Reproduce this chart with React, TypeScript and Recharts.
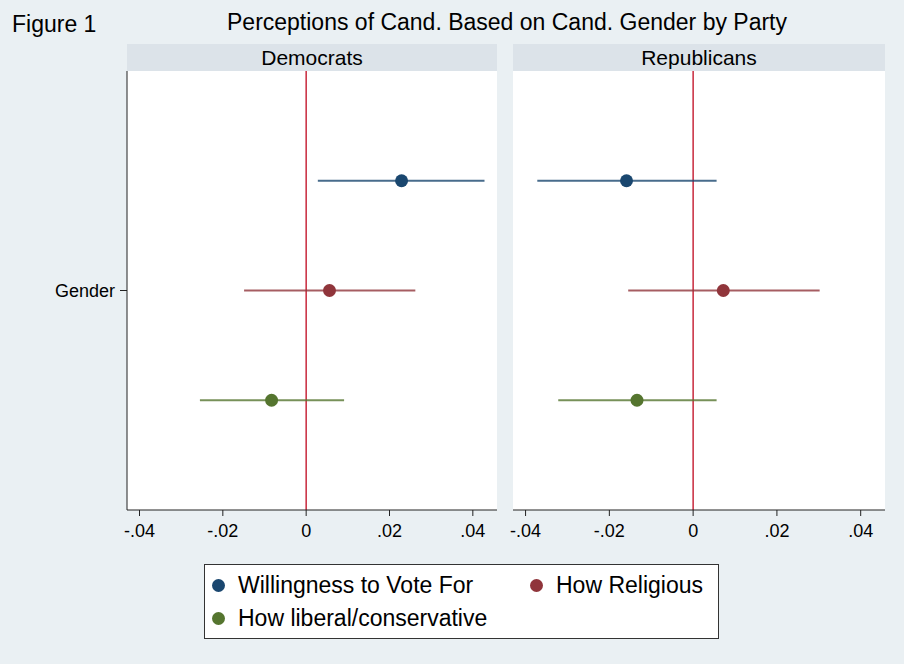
import { ScatterChart, Scatter, XAxis, YAxis, ErrorBar, ReferenceLine, CartesianGrid } from "recharts";

// outcomes (one row each in the coefficient plot), top to bottom
const outcomes = ["Willingness to Vote For", "How Religious", "How liberal/conservative"];
const rowPos = [3, 2, 1];
const colors = ["#1a476f", "#90353b", "#55752f"];

// Democrats panel: estimate + 95% CI
const demEst = [0.0229, 0.0056, -0.0083];
const demLo = [0.0028, -0.0149, -0.0255];
const demHi = [0.0428, 0.0262, 0.0091];

// Republicans panel
const repEst = [-0.0159, 0.0072, -0.0134];
const repLo = [-0.0372, -0.0155, -0.0322];
const repHi = [0.0056, 0.0302, 0.0056];

const xTicks = [-0.04, -0.02, 0, 0.02, 0.04];
const font = '"Liberation Sans", Arial, Helvetica, sans-serif';

const fmt = (v: number) => {
  if (v === 0) return "0";
  const s = Math.abs(v).toFixed(2).replace(/^0/, "");
  return v < 0 ? "-" + s : s;
};

const Dot = (props: any) => {
  const { cx, cy, fill } = props;
  if (cx == null || cy == null) return null;
  return <circle cx={cx} cy={cy} r={6.5} fill={fill} />;
};

const Panel = (props: { est: number[]; lo: number[]; hi: number[]; showY: boolean; width: number; padLeft: number }) => {
  const { est, lo, hi, showY, width, padLeft } = props;
  return (
    <ScatterChart width={width} height={479} margin={{ top: 0, right: 0, bottom: 0, left: padLeft }}>
      <CartesianGrid fill="#ffffff" stroke="none" horizontal={false} vertical={false} />
      <XAxis
        type="number"
        dataKey="x"
        domain={[-0.043, 0.0458]}
        ticks={xTicks}
        tickFormatter={fmt}
        interval={0}
        allowDataOverflow
        height={40}
        stroke="#222"
        tickSize={6}
        tickMargin={8}
        tick={{ fill: "#000", fontSize: 18, fontFamily: font }}
      />
      <YAxis
        type="number"
        dataKey="y"
        domain={[0, 4]}
        ticks={[2]}
        tickFormatter={() => "Gender"}
        hide={!showY}
        width={showY ? 87 : 0}
        stroke="#222"
        tickSize={7}
        tickMargin={5}
        tick={{ fill: "#000", fontSize: 18, fontFamily: font }}
      />
      <ReferenceLine x={0} stroke="#c8283c" strokeWidth={1.5} />
      {outcomes.map((name, i) => (
        <Scatter
          key={name}
          name={name}
          data={[{ x: est[i], y: rowPos[i], err: [est[i] - lo[i], hi[i] - est[i]] }]}
          fill={colors[i]}
          shape={Dot}
          isAnimationActive={false}
        >
          <ErrorBar dataKey="err" direction="x" width={0} stroke={colors[i]} strokeOpacity={0.8} strokeWidth={2} />
        </Scatter>
      ))}
    </ScatterChart>
  );
};

const header: React.CSSProperties = {
  position: "absolute",
  top: 44,
  height: 27,
  background: "#dce3e9",
  fontSize: 21,
  lineHeight: "27px",
  textAlign: "center",
  color: "#000",
};

export default function App() {
  return (
    <div style={{ position: "absolute", left: 0, top: 0, width: 904, height: 664, background: "#eaf0f3", fontFamily: font, overflow: "hidden" }}>
      <div style={{ position: "absolute", left: 12, top: 11, fontSize: 23 }}>Figure 1</div>
      <div style={{ position: "absolute", left: 127, width: 760, top: 9, fontSize: 23, textAlign: "center" }}>
        Perceptions of Cand. Based on Cand. Gender by Party
      </div>
      <div style={{ ...header, left: 127, width: 370 }}>Democrats</div>
      <div style={{ ...header, left: 513, width: 372 }}>Republicans</div>
      <div style={{ position: "absolute", left: 40, top: 71 }}>
        <Panel est={demEst} lo={demLo} hi={demHi} showY={true} width={457} padLeft={0} />
      </div>
      <div style={{ position: "absolute", left: 493, top: 71 }}>
        <Panel est={repEst} lo={repLo} hi={repHi} showY={false} width={392} padLeft={20} />
      </div>
      <div
        style={{
          position: "absolute",
          left: 204,
          top: 564,
          width: 513,
          height: 73,
          background: "#fff",
          border: "1px solid #333",
          fontSize: 23,
        }}
      >
        {outcomes.map((name, i) => (
          <div
            key={name}
            style={{
              position: "absolute",
              left: i === 1 ? 325 : 7,
              top: i === 2 ? 39 : 6,
              display: "flex",
              alignItems: "center",
              height: 28,
            }}
          >
            <span style={{ display: "inline-block", width: 13, height: 13, borderRadius: 7, background: colors[i], marginRight: 13 }} />
            <span>{name}</span>
          </div>
        ))}
      </div>
    </div>
  );
}
